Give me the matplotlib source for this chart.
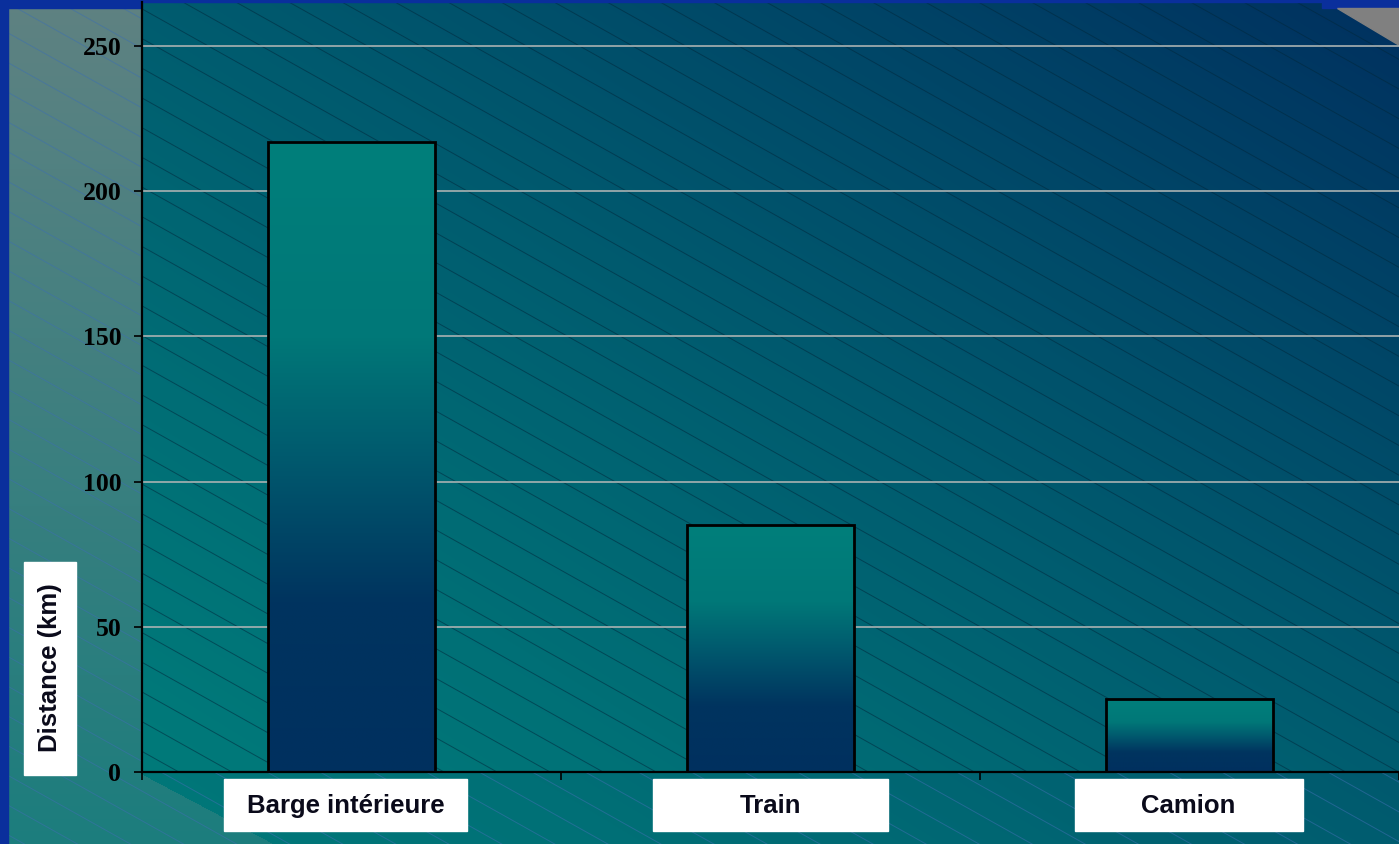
import matplotlib.pyplot as plt
import numpy as np
from matplotlib.colors import LinearSegmentedColormap, to_rgb
from matplotlib.patches import Polygon, Rectangle
from matplotlib.transforms import blended_transform_factory

# Data.
categories = ['Barge intérieure', 'Train', 'Camion']
distances = [217, 85, 25]
yticks = [0, 50, 100, 150, 200, 250]
ylabel = 'Distance (km)'

W, H = 1399, 844
AX_LEFT, AX_RIGHT, AX_TOP, AX_BOTTOM = 142, 1399, 2, 772

# label boxes under the axis (offset from bar centre, width), in data units
box_layout = [(-0.014, 0.58), (0.001, 0.561), (-0.002, 0.544)]

TEAL = np.array(to_rgb('#007a7a'))
NAVY = np.array(to_rgb('#00305f'))
SLIDE_GRAY = np.array(to_rgb('#5f8282'))
SLIDE_GRAY_LOW = np.array(to_rgb('#1c7d7d'))


def hatch(ax, color, alpha, zorder, clip=None, phase=0.0):
    # Thin diagonal lines of the chart fill pattern, in pixel coordinates.
    slope = 0.56
    step = 29.7
    xs = np.array([0, W])
    for c in np.arange(-slope * W + phase, H + step, step):
        line, = ax.plot(xs, slope * xs + c, color=color, lw=0.7, alpha=alpha, zorder=zorder)
        if clip is not None:
            line.set_clip_path(clip)


def draw_background(fig):
    bg = fig.add_axes([0, 0, 1, 1], zorder=0)
    bg.set_xlim(0, W)
    bg.set_ylim(H, 0)
    bg.axis('off')

    px, py = np.meshgrid(np.arange(W) + 0.5, np.arange(H) + 0.5)
    u = ((px / W + (H - py) / H) / 2) ** 1.3
    img = TEAL * (1 - u[..., None]) + NAVY * u[..., None]
    # lighter slide overlay on the left, ending in a diagonal below the axis
    y_line = 775 + 0.53 * (px - 143)
    lighter = (px < AX_LEFT) | (py > y_line)
    t = np.clip(py / H, 0, 1)[..., None]
    over = SLIDE_GRAY * (1 - t) + SLIDE_GRAY_LOW * t
    img = np.where(lighter[..., None], over, img)
    bg.imshow(img, extent=[0, W, H, 0], aspect='auto', zorder=0, interpolation='bilinear')
    hatch(bg, '#3d6fb0', 0.55, zorder=0.5, phase=10)

    # plot area: own diagonal gradient and darker pattern
    aw, ah = AX_RIGHT - AX_LEFT, AX_BOTTOM - AX_TOP
    ax_x, ax_y = np.meshgrid(np.linspace(0, 1, aw), np.linspace(1, 0, ah))
    v = ((ax_x + ax_y) / 2) ** 1.3
    plot_img = TEAL * (1 - v[..., None]) + NAVY * v[..., None]
    bg.imshow(plot_img, extent=[AX_LEFT, AX_RIGHT, AX_BOTTOM, AX_TOP],
              aspect='auto', zorder=1, interpolation='bilinear')
    clip = Rectangle((AX_LEFT, AX_TOP), aw, ah, transform=bg.transData)
    hatch(bg, '#00283c', 0.55, zorder=2, clip=clip, phase=0)

    # slide decorations: blue frame strips and grey corner
    blue = '#0a2f9c'
    bg.add_patch(Rectangle((0, 0), 8, H, color=blue, zorder=3))
    bg.add_patch(Rectangle((0, 0), AX_LEFT, 8, color=blue, zorder=3))
    bg.add_patch(Rectangle((0, 0), W, 1.5, color=blue, zorder=3))
    bg.add_patch(Rectangle((1322, 0), W - 1322, 8, color=blue, zorder=3))
    bg.add_patch(Polygon([(1337, 8), (W, 8), (W, 45)], closed=True,
                         color='#808080', zorder=3))


def plot_bars(ax):
    x = np.arange(len(categories))
    width = 0.4
    bar_cmap = LinearSegmentedColormap.from_list(
        'bar', [(0, '#00305f'), (0.27, '#00345f'), (0.5, '#005a6e'),
                (0.69, '#007878'), (1, '#007f7b')])
    grad = np.linspace(0, 1, 1024).reshape(-1, 1)
    for xi, d in zip(x, distances):
        ax.imshow(grad, extent=[xi - width / 2, xi + width / 2, 0, d], origin='lower',
                  aspect='auto', cmap=bar_cmap, interpolation='bilinear', zorder=2)
    ax.bar(x, distances, width=width, color='none', edgecolor='black', lw=2, zorder=3)

    ax.set_xlim(-0.5, len(categories) - 0.5)
    ax.set_ylim(0, 265.2)
    ax.set_xticks(np.arange(len(categories) + 1) - 0.5)
    ax.set_xticklabels([])
    ax.set_yticks(yticks)
    ax.set_yticklabels([str(t) for t in yticks], family='Liberation Serif',
                       fontweight='bold', fontsize=18.5)
    ax.tick_params(direction='out', length=6, width=1.2, color='black', pad=9)
    ax.yaxis.grid(True, color='#aab2b2', lw=1.2)
    ax.set_axisbelow(True)
    for side in ('top', 'right'):
        ax.spines[side].set_visible(False)
    for side in ('left', 'bottom'):
        ax.spines[side].set_linewidth(1.6)
        ax.spines[side].set_color('black')

    # category labels in white boxes under the axis
    trans = blended_transform_factory(ax.transData, ax.figure.transFigure)
    for xi, name, (off, box_w) in zip(x, categories, box_layout):
        ax.add_patch(Rectangle((xi + off - box_w / 2, 13 / H), box_w, 52 / H,
                               transform=trans, color='white', clip_on=False, zorder=4))
        ax.text(xi + off, 38 / H, name, transform=trans, ha='center', va='center',
                family='Liberation Sans', fontweight='bold', fontsize=18.5,
                color='#0a0a1a', zorder=5)


def plot():
    fig = plt.figure(figsize=(W / 100, H / 100), dpi=100)
    draw_background(fig)

    ax = fig.add_axes([AX_LEFT / W, (H - AX_BOTTOM) / H,
                       (AX_RIGHT - AX_LEFT) / W, (AX_BOTTOM - AX_TOP) / H], zorder=1)
    ax.set_facecolor('none')
    plot_bars(ax)

    # y label in a white box
    fig.patches.append(Rectangle((24 / W, (H - 775) / H), 52 / W, 213 / H,
                                 transform=fig.transFigure, color='white', zorder=4))
    fig.text(50 / W, (H - 668) / H, ylabel, rotation=90, ha='center', va='center',
             family='Liberation Sans', fontweight='bold', fontsize=18.5,
             color='#0a0a1a', zorder=5)

    fig.savefig('out.png', dpi=100)


if __name__ == '__main__':
    plot()
